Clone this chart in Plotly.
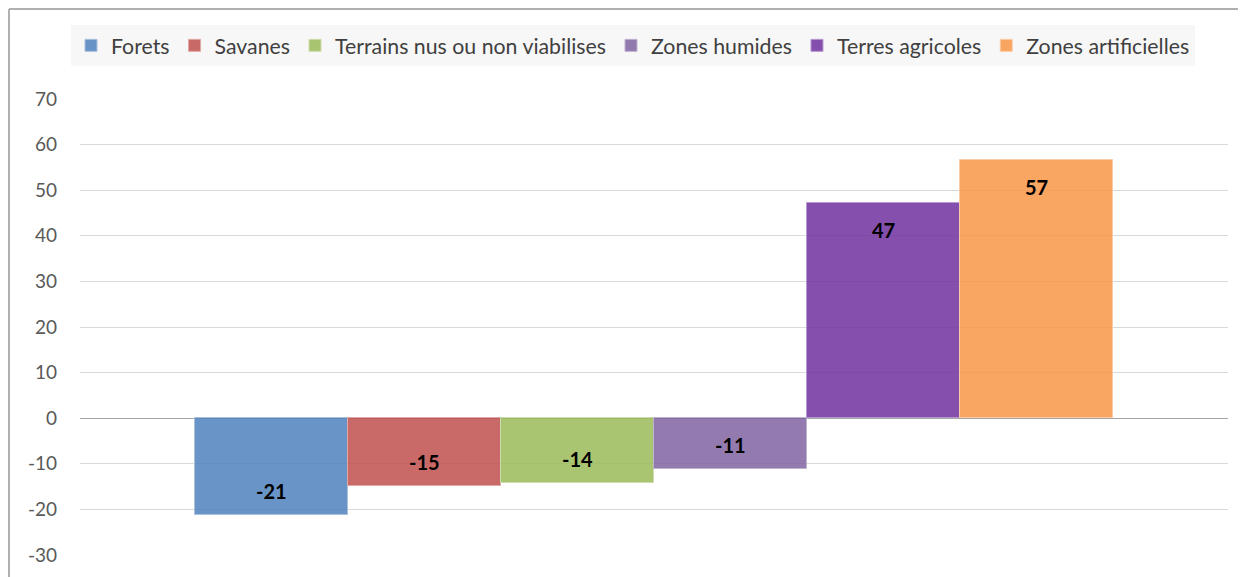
import plotly.graph_objects as go

series_names = ["Forets", "Savanes", "Terrains nus ou non viabilises",
                "Zones humides", "Terres agricoles", "Zones artificielles"]
series_values = [-21.3, -14.8, -14.2, -11.1, 47.1, 56.6]
series_labels = ["-21", "-15", "-14", "-11", "47", "57"]
fill_colors = ["rgba(79,129,189,0.85)", "rgba(192,80,77,0.85)", "rgba(155,187,89,0.85)",
               "rgba(128,100,162,0.85)", "rgba(112,48,160,0.85)", "rgba(247,150,70,0.85)"]
line_colors = ["#a9c0de", "#e0a8a6", "#cddcac", "#bfb1d0", "#b797cf", "#fbcaa2"]
tick_vals = [-30, -20, -10, 0, 10, 20, 30, 40, 50, 60, 70]
tick_text = ["-30", "-20", "-10", "0", "10", "20", "30", "40", "50", "60", "70"]

FONT = "Lato"
W, H = 1238, 569
L, R, T, B = 72, 18, 91, 22
pw, ph = W - L - R, H - T - B

fig = go.Figure()
annotations = []
for name, v, lab, fc, lc in zip(series_names, series_values, series_labels, fill_colors, line_colors):
    fig.add_trace(go.Bar(
        x=[name], y=[v], name=name,
        marker=dict(color=fc, line=dict(color=lc, width=1)),
        hoverinfo="skip",
    ))
    annotations.append(dict(
        x=name, y=v, xref="x", yref="y", text=lab, showarrow=False,
        yanchor="middle", yshift=-27 if v > 0 else 24,
        font=dict(family=FONT, size=20, color="black", weight="bold"),
    ))

def px_x(p):
    return (p - L) / pw

def px_y(p):
    return (H - B - p) / ph

fig.update_layout(
    width=W, height=H,
    margin=dict(l=L, r=R, t=T, b=B),
    paper_bgcolor="white", plot_bgcolor="white",
    barmode="overlay", bargap=0,
    font=dict(family=FONT, size=19, color="#595959"),
    showlegend=True,
    legend=dict(orientation="h", x=px_x(625), xanchor="center", y=px_y(17), yanchor="top",
                bgcolor="#f7f7f7", font=dict(family=FONT, size=21.3, color="#404040"),
                traceorder="normal", itemwidth=30),
    xaxis=dict(type="category", range=[-1.25, 6.25], showticklabels=False, showgrid=False,
               zeroline=False, showline=False),
    yaxis=dict(range=[-30, 70], tickvals=tick_vals, ticktext=tick_text, showgrid=True,
               gridcolor="#d9d9d9", gridwidth=1, zeroline=True, zerolinecolor="#a6a6a6",
               zerolinewidth=1, showline=False, ticks="", ticklabelstandoff=22,
               tickfont=dict(family=FONT, size=19, color="#595959")),
    annotations=annotations,
    shapes=[
        dict(type="line", xref="paper", yref="paper", x0=px_x(1), x1=px_x(W + 5),
             y0=px_y(1), y1=px_y(1), line=dict(color="#b0b0b0", width=2)),
        dict(type="line", xref="paper", yref="paper", x0=px_x(1), x1=px_x(1),
             y0=px_y(1), y1=px_y(H + 5), line=dict(color="#b0b0b0", width=2)),
    ],
)

fig.write_html("out.html")
